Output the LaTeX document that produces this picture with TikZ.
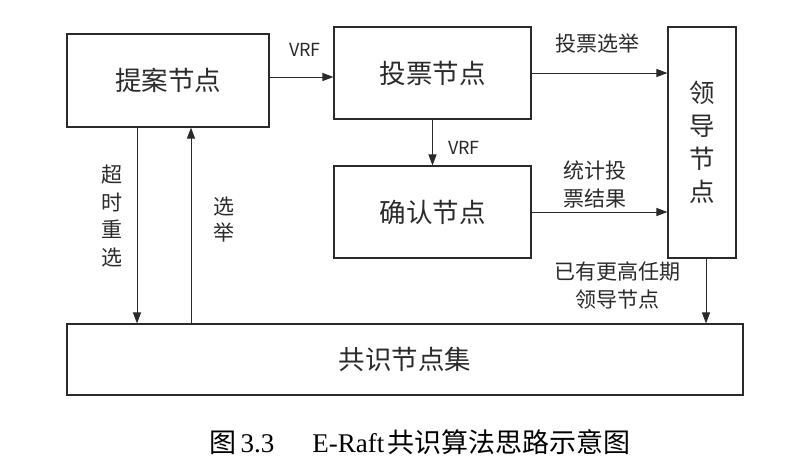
\documentclass[tikz,border=0pt]{standalone}
\usepackage{fontspec}
\setmainfont{Noto Sans CJK SC}
\newfontfamily\capserif{Liberation Serif}
\usetikzlibrary{arrows.meta}
\definecolor{ink}{HTML}{2A2A2A}
\tikzset{
  box/.style={draw=ink, line width=1.1pt, rectangle, inner sep=0pt, font=\fontsize{26.5}{30}\selectfont, text=ink},
  arr/.style={draw=ink, line width=1.0pt, -{Triangle[length=11pt,width=8pt]}},
  lbl/.style={text=ink, inner sep=0pt, align=center},
}
\begin{document}
\begin{tikzpicture}[x=1pt,y=-1pt]
\useasboundingbox (0,0) rectangle (812,475);
\node[box, minimum width=202pt, minimum height=93pt] (tian) at (168,80.5) {提案节点};
\node[box, minimum width=197pt, minimum height=92pt] (tou) at (432.5,73) {投票节点};
\node[box, minimum width=197pt, minimum height=92pt] (que) at (432.5,212) {确认节点};
\node[box, minimum width=68pt, minimum height=231pt, align=center, font=\fontsize{25.5}{33}\selectfont] (ling) at (702,142.5) {领\\导\\节\\点};
\node[box, minimum width=676pt, minimum height=71pt] (gong) at (405,359.5) {共识节点集};

\coordinate (a1) at (0,77);
\draw[arr] (tian.east |- a1) -- (tou.west |- a1);
\node[lbl, font=\fontsize{18}{20}\selectfont] (vrf1) at (305,50) {VRF};

\draw[arr] (tou.east) -- (ling.west |- tou.east);
\node[lbl, font=\fontsize{21}{24}\selectfont] (l2) at (597,43) {投票选举};

\draw[arr] (tou.south) -- (que.north);
\node[lbl, font=\fontsize{18}{20}\selectfont] (vrf2) at (464,148) {VRF};

\draw[arr] (que.east) -- (ling.west |- que.east);
\node[lbl, font=\fontsize{21}{28}\selectfont] (l4) at (595,184) {统计投\\票结果};

\coordinate (c5) at (706,0);
\draw[arr] (ling.south -| c5) -- (gong.north -| c5);
\node[lbl, font=\fontsize{21}{28}\selectfont] (l5) at (617,286) {已有更高任期\\领导节点};

\coordinate (c6) at (137,0);
\draw[arr] (tian.south -| c6) -- (gong.north -| c6);
\node[lbl, font=\fontsize{21}{27.5}\selectfont] (l6) at (112,216) {超\\时\\重\\选};

\coordinate (c7) at (191,0);
\draw[arr] (gong.north -| c7) -- (tian.south -| c7);
\node[lbl, font=\fontsize{21}{26}\selectfont] (l7) at (224,220) {选\\举};

\node[lbl, font=\fontsize{27}{30}\selectfont, text=black] (cap) at (420,442) {图\hspace{4pt}{\capserif 3.3}\hspace{38pt}{\capserif E-Raft}\hspace{3pt}共识算法思路示意图};
\end{tikzpicture}
\end{document}
